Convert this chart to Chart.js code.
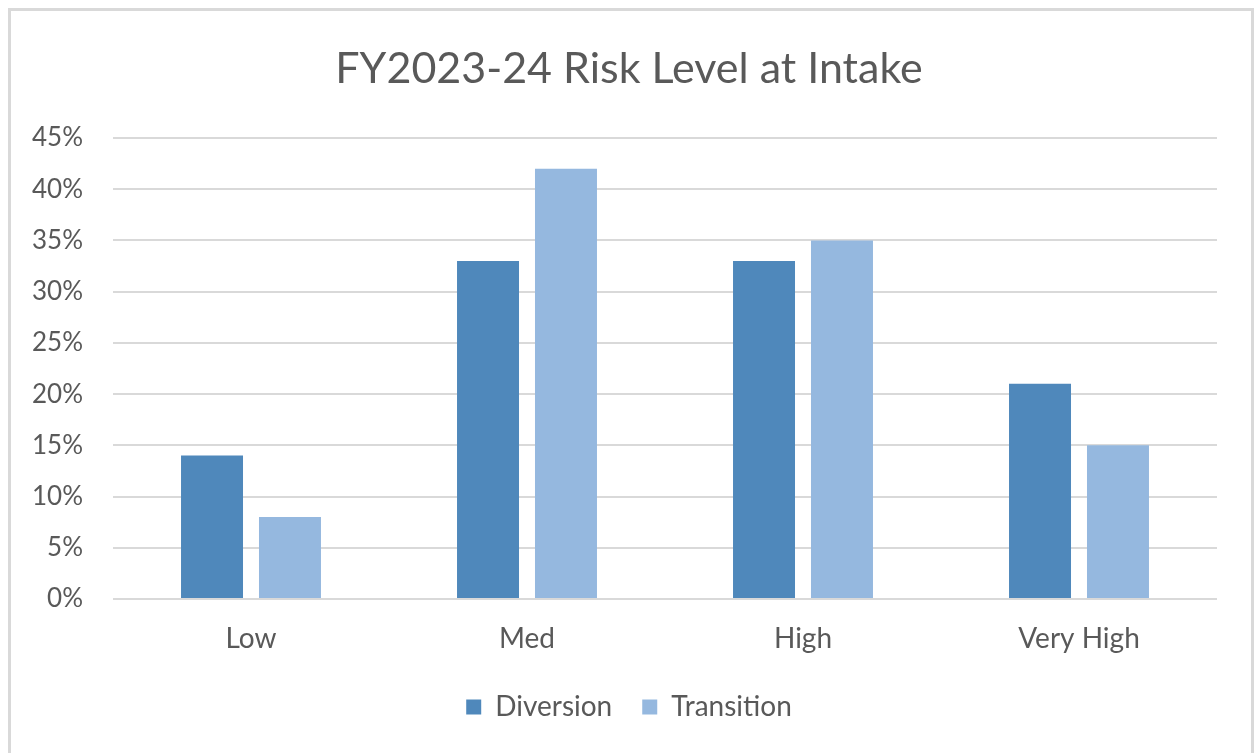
<!DOCTYPE html>
<html>
<head>
<meta charset="utf-8">
<script src="https://cdn.jsdelivr.net/npm/chart.js@4/dist/chart.umd.min.js"></script>
<style>
  html, body { margin: 0; padding: 0; background: #ffffff; }
  #wrap { position: relative; width: 1258px; height: 753px; overflow: hidden; }
  #frame {
    position: absolute; left: 8px; top: 8px; width: 1246px; height: 800px;
    box-sizing: border-box; border: 3px solid #d9d9d9; pointer-events: none;
  }
  canvas { position: absolute; left: 0; top: 0; }
</style>
</head>
<body>
<div id="wrap">
  <canvas id="chart" width="1258" height="753"></canvas>
  <div id="frame"></div>
</div>
<script>
// Risk level categories and share of youth at intake (%)
const categories = ['Low', 'Med', 'High', 'Very High'];
const diversion = [14, 33, 33, 21];
const transition = [8, 42, 35, 15];
const yTicks = [0, 5, 10, 15, 20, 25, 30, 35, 40, 45];

const textColor = '#595959';
const fontFamily = 'Lato, "Open Sans", sans-serif';

new Chart(document.getElementById('chart'), {
  type: 'bar',
  data: {
    labels: categories,
    datasets: [
      { label: 'Diversion', data: diversion, backgroundColor: '#4f88bb',
        categoryPercentage: 0.565, barPercentage: 0.795 },
      { label: 'Transition', data: transition, backgroundColor: '#95b8df',
        categoryPercentage: 0.565, barPercentage: 0.795 }
    ]
  },
  options: {
    responsive: false,
    devicePixelRatio: 1,
    animation: false,
    layout: { padding: { left: 0, right: 0, top: 0, bottom: 22 } },
    plugins: {
      title: {
        display: true,
        text: 'FY2023-24 Risk Level at Intake',
        color: textColor,
        font: { family: fontFamily, size: 43, weight: 'normal' },
        padding: { top: 43, bottom: 43.4 }
      },
      legend: {
        display: true,
        position: 'bottom',
        labels: {
          color: textColor,
          font: { family: fontFamily, size: 28 },
          boxWidth: 15,
          boxHeight: 15,
          padding: 30
        }
      },
      tooltip: { enabled: false }
    },
    scales: {
      x: {
        grid: { display: false, drawTicks: false },
        border: { display: false },
        ticks: { color: textColor, font: { family: fontFamily, size: 28 }, padding: 23 },
        afterFit: (scale) => { scale.height = 64; }
      },
      y: {
        min: 0,
        max: 45,
        afterBuildTicks: (scale) => { scale.ticks = yTicks.map(v => ({ value: v })); },
        grid: { color: '#d9d9d9', lineWidth: 2, drawTicks: false },
        border: { display: false },
        ticks: {
          color: textColor,
          font: { family: fontFamily, size: 26 },
          padding: 30,
          callback: (v) => v + '%'
        },
        afterFit: (scale) => { scale.width = 113; }
      },
      // empty right-hand margin so the plot ends short of the frame
      yRight: {
        position: 'right',
        min: 0,
        max: 45,
        grid: { display: false, drawTicks: false },
        border: { display: false },
        ticks: { display: false },
        afterFit: (scale) => { scale.width = 41; }
      }
    }
  }
});
</script>
</body>
</html>
